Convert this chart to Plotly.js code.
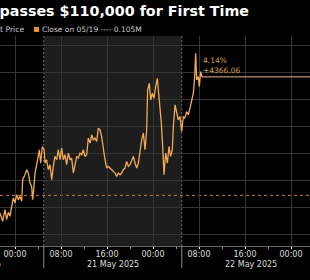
<!DOCTYPE html>
<html>
<head>
<meta charset="utf-8">
<script src="https://cdn.plot.ly/plotly-3.0.1.min.js"></script>
<style>
  html, body { margin: 0; padding: 0; background: #000; }
  #chart { width: 310px; height: 280px; }
</style>
</head>
<body>
<div id="chart"></div>
<script>
// ---- Data ----
const titleText = 'Bitcoin Surpasses $110,000 for First Time';
const seriesName = 'Last Price';
const closeLabel = 'Close on 05/19';
const volumeLabel = '0.105M';
const closeValue = 105460;

const times = [
  '2025-05-20 21:23','2025-05-20 21:51','2025-05-20 22:16','2025-05-20 22:33','2025-05-20 22:50','2025-05-20 23:08','2025-05-20 23:25','2025-05-20 23:43',
  '2025-05-21 00:00','2025-05-21 00:17','2025-05-21 00:35','2025-05-21 00:52','2025-05-21 01:10','2025-05-21 01:20','2025-05-21 01:44','2025-05-21 02:02',
  '2025-05-21 02:19','2025-05-21 02:37','2025-05-21 02:54','2025-05-21 03:04','2025-05-21 03:18','2025-05-21 03:29','2025-05-21 03:46','2025-05-21 04:04',
  '2025-05-21 04:14','2025-05-21 04:28','2025-05-21 04:45','2025-05-21 05:03','2025-05-21 05:13','2025-05-21 05:30','2025-05-21 05:48','2025-05-21 06:05',
  '2025-05-21 06:23','2025-05-21 06:40','2025-05-21 06:57','2025-05-21 07:15','2025-05-21 07:32','2025-05-21 07:50','2025-05-21 08:07','2025-05-21 08:24',
  '2025-05-21 08:42','2025-05-21 08:59','2025-05-21 09:17','2025-05-21 09:34','2025-05-21 09:51','2025-05-21 10:09','2025-05-21 10:26','2025-05-21 10:44',
  '2025-05-21 11:01','2025-05-21 11:18','2025-05-21 11:36','2025-05-21 11:53','2025-05-21 12:10','2025-05-21 12:28','2025-05-21 12:45','2025-05-21 13:03',
  '2025-05-21 13:20','2025-05-21 13:37','2025-05-21 13:55','2025-05-21 14:12','2025-05-21 14:30','2025-05-21 14:47','2025-05-21 15:04','2025-05-21 15:22',
  '2025-05-21 15:39','2025-05-21 15:57','2025-05-21 16:14','2025-05-21 16:31','2025-05-21 16:49','2025-05-21 17:06','2025-05-21 17:24','2025-05-21 17:41',
  '2025-05-21 17:58','2025-05-21 18:16','2025-05-21 18:33','2025-05-21 18:50','2025-05-21 19:08','2025-05-21 19:25','2025-05-21 19:43','2025-05-21 20:00',
  '2025-05-21 20:17','2025-05-21 20:35','2025-05-21 20:52','2025-05-21 21:10','2025-05-21 21:27','2025-05-21 21:44','2025-05-21 22:02','2025-05-21 22:19',
  '2025-05-21 22:37','2025-05-21 22:54','2025-05-21 23:04','2025-05-21 23:22','2025-05-21 23:36','2025-05-21 23:53',
  '2025-05-22 00:10','2025-05-22 00:28','2025-05-22 00:45','2025-05-22 00:59','2025-05-22 01:13','2025-05-22 01:27','2025-05-22 01:41','2025-05-22 01:55',
  '2025-05-22 02:12','2025-05-22 02:30','2025-05-22 02:47','2025-05-22 03:04','2025-05-22 03:22','2025-05-22 03:32','2025-05-22 03:50','2025-05-22 04:07',
  '2025-05-22 04:24','2025-05-22 04:42','2025-05-22 04:59','2025-05-22 05:17','2025-05-22 05:34','2025-05-22 05:51','2025-05-22 06:09','2025-05-22 06:26',
  '2025-05-22 06:44','2025-05-22 07:01','2025-05-22 07:15','2025-05-22 07:25','2025-05-22 07:36','2025-05-22 07:53','2025-05-22 08:03','2025-05-22 08:17',
  '2025-05-22 08:31'
];

const prices = [
  104810,104505,104934,104566,104836,104689,105056,105363,
  105179,105485,105301,105424,105240,106037,106221,106404,
  106282,105914,105792,105301,105792,106282,106588,107017,
  107140,106650,107262,107140,106650,106772,106404,106588,
  106037,106527,106895,106772,107140,106772,107201,106772,
  106956,106588,107017,106772,106833,106282,106650,106895,
  106833,107017,106956,107140,106895,106956,107569,107385,
  107691,107507,107569,107446,107936,107875,107630,107140,
  106772,106466,106527,106466,106404,106343,106282,106159,
  106282,106221,106282,106404,106466,106711,106527,106588,
  106711,106895,106650,106466,106650,107140,107507,107752,
  107140,107875,109346,109591,108978,109223,
  109039,109468,109775,109223,108733,108120,107262,106221,
  107017,106650,107262,106895,107140,107998,108794,108488,
  108243,108365,107814,108365,108304,108549,108426,108672,
  108917,109223,109836,110694,109713,109836,109468,110020,
  109826.06
];

const sessions = [
  { start: '2025-05-21 05:00', end: '2025-05-22 05:00', mid: '2025-05-21 17:00', label: '21 May 2025' },
  { start: '2025-05-22 05:00', end: '2025-05-23 05:00', mid: '2025-05-22 17:00', label: '22 May 2025' }
];
const prevSessionLabel = '20 May 2025';

// ---- Derived ----
const lastTime = times[times.length - 1];
const lastPrice = prices[prices.length - 1];
const change = lastPrice - closeValue;
const pct = change / closeValue * 100;

const W = 310, H = 280, T = 36, B = 34;
const plotH = H - T - B;
const px2paperY = p => (H - B - p) / plotH;

const lineColor = '#f2aa55';
const font = 'DejaVu Sans, Verdana, sans-serif';

const trace = {
  type: 'scatter', mode: 'lines', x: times, y: prices, name: seriesName,
  line: { color: lineColor, width: 1.3 }, hoverinfo: 'skip'
};

const shapes = [
  { type: 'rect', xref: 'x', yref: 'paper', x0: sessions[0].start, x1: sessions[0].end, y0: 0, y1: 1,
    fillcolor: '#1d1d1d', line: { width: 0 }, layer: 'below' }
];
sessions.forEach(s => {
  shapes.push({ type: 'line', xref: 'x', yref: 'paper', x0: s.start, x1: s.start, y0: 0, y1: 1,
    line: { color: '#6a6a6a', width: 1, dash: '2px,2px' }, layer: 'below' });
  shapes.push({ type: 'line', xref: 'x', yref: 'paper', x0: s.start, x1: s.start, y0: 0, y1: -0.105,
    line: { color: '#8a8a8a', width: 1 } });
});
shapes.push({ type: 'line', xref: 'paper', yref: 'y', x0: 0, x1: 1, y0: closeValue, y1: closeValue,
  line: { color: '#c08030', width: 1, dash: 'dot' }, layer: 'below' });
shapes.push({ type: 'line', xref: 'x', yref: 'y', x0: lastTime, x1: '2025-05-24 00:00', y0: lastPrice, y1: lastPrice,
  line: { color: '#e8b888', width: 1 } });
// legend swatch
shapes.push({ type: 'rect', xref: 'paper', yref: 'paper', x0: 34 / W, x1: 39 / W,
  y0: px2paperY(32), y1: px2paperY(27), fillcolor: '#e8922a', line: { width: 0 } });

const annotations = [
  { text: seriesName, xref: 'paper', yref: 'paper', x: 26 / W, y: px2paperY(29.5), xanchor: 'right', yanchor: 'middle',
    showarrow: false, font: { family: font, size: 7.7, color: '#cccccc' } },
  { text: closeLabel + ' ---- ' + volumeLabel, xref: 'paper', yref: 'paper', x: 40 / W, y: px2paperY(29.5),
    xanchor: 'left', yanchor: 'middle', showarrow: false, font: { family: font, size: 7.5, color: '#cccccc' } },
  { text: pct.toFixed(2) + '%', xref: 'x', yref: 'y', x: lastTime, y: lastPrice, xanchor: 'left', yanchor: 'bottom',
    yshift: 10, xshift: -1, showarrow: false, font: { family: font, size: 7.5, color: '#d9a050' } },
  { text: '+' + change.toFixed(2), xref: 'x', yref: 'y', x: lastTime, y: lastPrice, xanchor: 'left', yanchor: 'bottom',
    yshift: 0, xshift: -1, showarrow: false, font: { family: font, size: 7.5, color: '#d9a050' } },
  { text: prevSessionLabel, xref: 'paper', yref: 'paper', x: -25 / W, y: px2paperY(264), xanchor: 'center', yanchor: 'middle',
    showarrow: false, font: { family: font, size: 8, color: '#dddddd' } }
];
sessions.forEach(s => annotations.push({
  text: s.label, xref: 'x', yref: 'paper', x: s.mid, y: px2paperY(264), xanchor: 'center', yanchor: 'middle',
  showarrow: false, font: { family: font, size: 8, color: '#dddddd' }
}));

const layout = {
  width: W, height: H,
  margin: { l: 0, r: 0, t: T, b: B, pad: 0 },
  paper_bgcolor: '#000', plot_bgcolor: '#000',
  showlegend: false,
  title: {
    text: '<b>' + titleText + '</b>', xref: 'container', yref: 'container',
    x: 249 / W, xanchor: 'right', y: 1 - 11 / H, yanchor: 'middle',
    font: { family: font, size: 14.3, color: '#ffffff' }
  },
  xaxis: {
    type: 'date',
    range: ['2025-05-20 21:23:29', '2025-05-23 03:18:16'],
    tick0: '2025-05-21 00:00', dtick: 8 * 3600 * 1000, tickformat: '%H:%M',
    showgrid: true, gridcolor: '#353535', gridwidth: 1,
    ticks: 'outside', ticklen: 2, tickcolor: '#ffffff', tickwidth: 1,
    ticklabelstandoff: -2,
    minor: { dtick: 4 * 3600 * 1000, ticks: 'outside', ticklen: 2, tickcolor: '#999999', showgrid: false },
    showline: true, linecolor: '#666666', linewidth: 1,
    zeroline: false, fixedrange: true,
    tickfont: { family: font, size: 8, color: '#dddddd' }
  },
  yaxis: {
    range: [103594, 111332], tick0: 0, dtick: 1000,
    showgrid: true, gridcolor: '#353535', gridwidth: 1,
    showticklabels: false, ticks: '', zeroline: false, showline: false, fixedrange: true
  },
  shapes: shapes,
  annotations: annotations
};

Plotly.newPlot('chart', [trace], layout, { staticPlot: true, displayModeBar: false });
</script>
</body>
</html>
